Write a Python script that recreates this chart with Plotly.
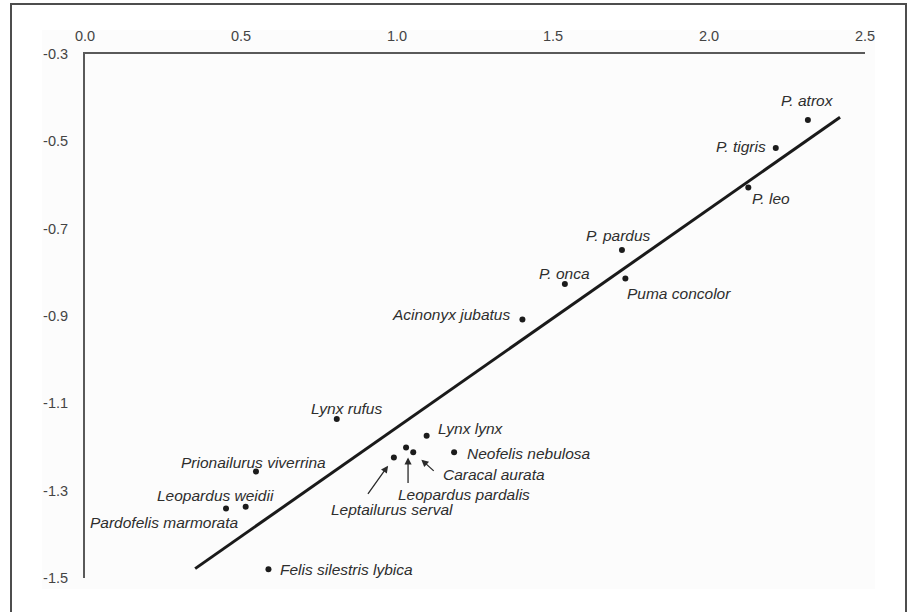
import plotly.graph_objects as go

# ---- data ----
species = ["P. atrox", "P. tigris", "P. leo", "P. pardus", "Puma concolor", "P. onca",
           "Acinonyx jubatus", "Lynx rufus", "Lynx lynx", "Neofelis nebulosa",
           "Leopardus pardalis", "Caracal aurata", "Leptailurus serval",
           "Prionailurus viverrina", "Leopardus weidii", "Pardofelis marmorata",
           "Felis silestris lybica"]
x_vals = [2.317, 2.214, 2.126, 1.721, 1.732, 1.538, 1.402, 0.807, 1.095, 1.183,
          1.029, 1.052, 0.990, 0.548, 0.515, 0.452, 0.588]
y_vals = [-0.451, -0.515, -0.606, -0.749, -0.814, -0.827, -0.908, -1.136, -1.174, -1.212,
          -1.201, -1.212, -1.224, -1.256, -1.337, -1.341, -1.480]

fit_slope = 0.50
fit_intercept = -1.655
fit_x = [0.353, 2.42]

x_ticks = [0.0, 0.5, 1.0, 1.5, 2.0, 2.5]
x_tick_text = ["0.0", "0.5", "1.0", "1.5", "2.0", "2.5"]
y_ticks = [-0.3, -0.5, -0.7, -0.9, -1.1, -1.3, -1.5]
y_tick_text = ["-0.3", "-0.5", "-0.7", "-0.9", "-1.1", "-1.3", "-1.5"]

# ---- label placement (pixel offsets from each dot) ----
label_style = {
    "P. atrox": ("center", 0, 19),
    "P. tigris": ("right", -8, 1),
    "P. leo": ("left", 2, -11),
    "P. pardus": ("center", -3, 15),
    "Puma concolor": ("left", 0, -15),
    "P. onca": ("center", 0, 11),
    "Acinonyx jubatus": ("right", -10, 5),
    "Lynx rufus": ("center", 10, 11),
    "Lynx lynx": ("left", 9, 7),
    "Neofelis nebulosa": ("left", 11, -1),
    "Leopardus pardalis": ("left", -10, -47),
    "Caracal aurata": ("left", 28, -22),
    "Leptailurus serval": ("left", -65, -52),
    "Prionailurus viverrina": ("center", -2, 9),
    "Leopardus weidii": ("right", 30, 11),
    "Pardofelis marmorata": ("right", 15, -14),
    "Felis silestris lybica": ("left", 10, 0),
}
# arrows: (ax, ay, standoff, xshift)
arrow_style = {
    "Leptailurus serval": (-27, 38, 10, 0),
    "Leopardus pardalis": (0, 37, 10, 2),
    "Caracal aurata": (22, 20, 11, 0),
}

FONT = "Liberation Sans, Arial, sans-serif"

fig = go.Figure()

fit_y = [fit_slope * v + fit_intercept for v in fit_x]
fig.add_trace(go.Scatter(x=fit_x, y=fit_y, mode="lines",
                         line=dict(color="#1a1a1a", width=3), hoverinfo="skip",
                         showlegend=False))
fig.add_trace(go.Scatter(x=x_vals, y=y_vals, mode="markers", text=species,
                         marker=dict(color="#1c1c1c", size=6), showlegend=False))

annotations = []
for name, xv, yv in zip(species, x_vals, y_vals):
    anc, dx, dy = label_style[name]
    annotations.append(dict(x=xv, y=yv, xref="x", yref="y", text=f"<i>{name}</i>",
                            showarrow=False, xanchor=anc, yanchor="middle",
                            xshift=dx, yshift=dy,
                            font=dict(family=FONT, size=15.5, color="#2e2e2e")))
    if name in arrow_style:
        ax, ay, so, xs = arrow_style[name]
        annotations.append(dict(x=xv, y=yv, xref="x", yref="y", text="",
                                showarrow=True, ax=ax, ay=ay, standoff=so, xshift=xs,
                                arrowhead=2, arrowsize=1.1, arrowwidth=1.3,
                                arrowcolor="#2a2a2a"))

# paper mapping: plot area x 85..865 px, y 54..578 px
def px_x(p):
    return (p - 85) / 780.0

def px_y(p):
    return (578 - p) / 524.0

shapes = [
    dict(type="rect", xref="paper", yref="paper", layer="below",
         x0=px_x(42), x1=px_x(875), y0=px_y(589), y1=px_y(30),
         fillcolor="#fcfcfc", line=dict(width=0)),
    dict(type="rect", xref="paper", yref="paper", layer="above",
         x0=px_x(11), x1=px_x(906), y0=px_y(616), y1=px_y(4),
         fillcolor="rgba(0,0,0,0)", line=dict(color="#4d4d4d", width=2)),
]

fig.update_layout(
    width=907, height=612,
    margin=dict(l=85, r=42, t=54, b=34),
    paper_bgcolor="white", plot_bgcolor="rgba(0,0,0,0)",
    annotations=annotations, shapes=shapes,
    font=dict(family=FONT, size=14.5, color="#444444"),
    xaxis=dict(range=[0, 2.5], side="top", tickvals=x_ticks, ticktext=x_tick_text,
               showgrid=False, zeroline=False, showline=True, linecolor="#5a5a5a",
               linewidth=2, ticks="outside", ticklen=5, tickcolor="rgba(0,0,0,0)",
               tickfont=dict(family=FONT, size=14.5, color="#444444")),
    yaxis=dict(range=[-1.5, -0.3], tickvals=y_ticks, ticktext=y_tick_text,
               showgrid=False, zeroline=False, showline=True, linecolor="#5a5a5a",
               linewidth=2, ticks="outside", ticklen=12, tickcolor="rgba(0,0,0,0)",
               tickfont=dict(family=FONT, size=14.5, color="#444444")),
)

fig.write_html("out.html", config={"displayModeBar": False},
               post_script="document.body.style.margin='0';document.body.style.overflow='hidden';")
